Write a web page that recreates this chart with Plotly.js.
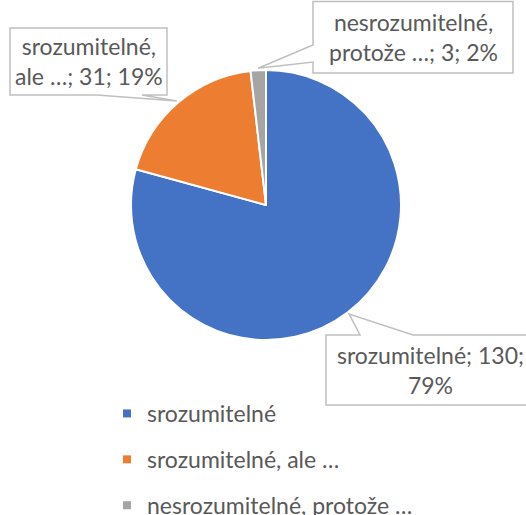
<!DOCTYPE html>
<html>
<head>
<meta charset="utf-8">
<script src="https://cdn.plot.ly/plotly-3.0.1.min.js"></script>
<style>html,body{margin:0;padding:0;background:#fff;}#chart{width:526px;height:515px;}</style>
</head>
<body>
<div id="chart"></div>
<script>
// ---- data ----
const labels = ['srozumitelné', 'srozumitelné, ale …', 'nesrozumitelné, protože …'];
const values = [130, 31, 3];
const colors = ['#4472C4', '#ED7D31', '#A5A5A5'];
// callout label text split into lines (as in the reference)
const calloutLine1 = ['srozumitelné; ', 'srozumitelné,', 'nesrozumitelné,'];
const calloutLine2Prefix = ['', 'ale …; ', 'protože …; '];

// ---- layout constants (pixels) ----
const W = 526, H = 515;
const CX = 266, CY = 205, R = 135, RA = 137;
const FONT = 'Lato, "Noto Sans", sans-serif';
const FS = 23;
const TXT = '#595959';
const boxes = [
  {x0: 326, x1: 534, y0: 335, y1: 405, side: 'top', b0: 360, b1: 413},
  {x0: 10, x1: 167, y0: 28, y1: 95, side: 'bottom', b0: 97, b1: 142},
  {x0: 313, x1: 513, y0: 1.5, y1: 73, side: 'left', b0: 45, b1: 62}
];

const px = x => x / W;
const py = y => 1 - y / H;

const total = values.reduce((a, b) => a + b, 0);
const pct = values.map(v => Math.round(v / total * 100) + '%');

// anchor points at slice arc midpoints (clockwise from 12 o'clock)
let cum = 0;
const anchors = values.map(v => {
  const mid = (cum + v / 2) / total * 2 * Math.PI;
  cum += v;
  return {x: CX + RA * Math.sin(mid), y: CY - RA * Math.cos(mid)};
});

const shapes = [];
const annotations = [];
boxes.forEach((b, i) => {
  const a = anchors[i];
  let pts;
  if (b.side === 'top') {
    pts = [[b.x0, b.y0], [b.b0, b.y0], [a.x, a.y], [b.b1, b.y0], [b.x1, b.y0], [b.x1, b.y1], [b.x0, b.y1]];
  } else if (b.side === 'bottom') {
    pts = [[b.x0, b.y0], [b.x1, b.y0], [b.x1, b.y1], [b.b1, b.y1], [a.x, a.y], [b.b0, b.y1], [b.x0, b.y1]];
  } else {
    pts = [[b.x0, b.y0], [b.x1, b.y0], [b.x1, b.y1], [b.x0, b.y1], [b.x0, b.b1], [a.x, a.y], [b.x0, b.b0]];
  }
  const path = 'M' + pts.map(p => px(p[0]).toFixed(5) + ',' + py(p[1]).toFixed(5)).join(' L') + ' Z';
  shapes.push({type: 'path', xref: 'paper', yref: 'paper', path: path,
    fillcolor: '#ffffff', line: {color: '#BFBFBF', width: 1.5}, layer: 'above'});
  const text = calloutLine1[i] + (i === 0 ? values[i] + ';' : '') + '<br>' +
    calloutLine2Prefix[i] + (i === 0 ? pct[i] : values[i] + '; ' + pct[i]);
  annotations.push({xref: 'paper', yref: 'paper', x: px(i === 0 ? 430 : (b.x0 + b.x1) / 2),
    y: py((b.y0 + b.y1) / 2), xanchor: 'center', yanchor: 'middle', showarrow: false,
    align: 'center', text: text, font: {family: FONT, size: FS, color: TXT}});
});

const traces = [{
  type: 'pie', labels: labels, values: values, sort: false, direction: 'clockwise', rotation: 0,
  marker: {colors: colors, line: {color: '#ffffff', width: 2}},
  textinfo: 'none', hoverinfo: 'label+value+percent', showlegend: false,
  domain: {x: [px(CX - R), px(CX + R)], y: [py(CY + R), py(CY - R)]}
}];
labels.forEach((l, i) => {
  traces.push({type: 'scatter', mode: 'markers', x: [null], y: [null], name: l,
    legendgroup: 'g' + i, marker: {symbol: 'square', size: 8, color: colors[i]}, hoverinfo: 'skip'});
});

const layout = {
  width: W, height: H, margin: {l: 0, r: 0, t: 0, b: 0, autoexpand: false},
  paper_bgcolor: '#ffffff', plot_bgcolor: '#ffffff',
  xaxis: {visible: false}, yaxis: {visible: false},
  showlegend: true,
  legend: {x: px(107), xanchor: 'left', y: py(392), yanchor: 'top', orientation: 'v',
    traceorder: 'grouped', tracegroupgap: 13, font: {family: FONT, size: FS, color: TXT},
    bgcolor: 'rgba(0,0,0,0)'},
  shapes: shapes, annotations: annotations
};
Plotly.newPlot('chart', traces, layout, {displayModeBar: false, staticPlot: true});
</script>
</body>
</html>
